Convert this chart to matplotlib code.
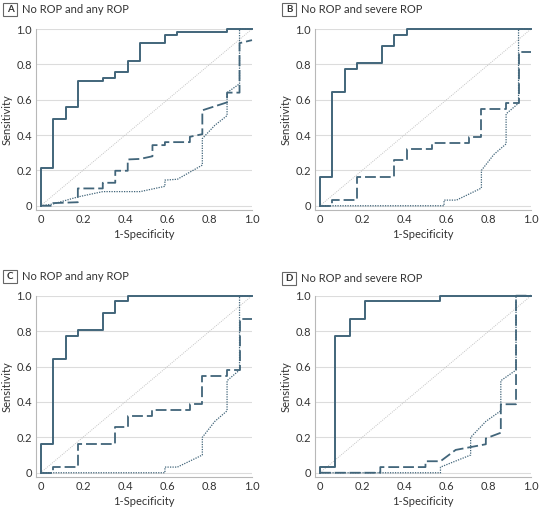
import matplotlib
matplotlib.use("Agg")
import matplotlib.pyplot as plt
import matplotlib.patches as mpatches

plt.rcParams['font.family'] = ['Lato', 'DejaVu Sans']

# ---------------- data ----------------
panel_letters = ["A", "B", "C", "D"]
panel_titles = ["No ROP and any ROP", "No ROP and severe ROP",
                "No ROP and any ROP", "No ROP and severe ROP"]

x_ticks = [0, 0.2, 0.4, 0.6, 0.8, 1.0]
x_tick_labels = ["0", "0.2", "0.4", "0.6", "0.8", "1.0"]
y_ticks = [0, 0.2, 0.4, 0.6, 0.8, 1.0]
y_tick_labels = ["0", "0.2", "0.4", "0.6", "0.8", "1.0"]

# Panel A
a_solid_x = [0, 0, 0.059, 0.059, 0.118, 0.118, 0.176, 0.176, 0.294, 0.294, 0.353, 0.353,
             0.412, 0.412, 0.471, 0.471, 0.588, 0.588, 0.647, 0.647, 0.882, 0.882, 1.0]
a_solid_y = [0, 0.215, 0.215, 0.49, 0.49, 0.557, 0.557, 0.705, 0.705, 0.72, 0.72, 0.755,
             0.755, 0.82, 0.82, 0.92, 0.92, 0.967, 0.967, 0.983, 0.983, 1.0, 1.0]
a_dash_x = [0, 0.059, 0.059, 0.176, 0.176, 0.294, 0.294, 0.353, 0.353, 0.412, 0.412, 0.471,
            0.529, 0.529, 0.588, 0.588, 0.706, 0.706, 0.765, 0.765, 0.882, 0.882, 0.941, 0.941, 1.0]
a_dash_y = [0, 0, 0.015, 0.02, 0.098, 0.098, 0.13, 0.13, 0.198, 0.198, 0.262, 0.265,
            0.28, 0.343, 0.343, 0.36, 0.36, 0.39, 0.405, 0.54, 0.585, 0.64, 0.64, 0.92, 0.937]
a_dot_x = [0, 0.059, 0.176, 0.294, 0.471, 0.588, 0.588, 0.647, 0.765, 0.765, 0.824, 0.882,
           0.882, 0.941, 0.941, 1.0]
a_dot_y = [0, 0.01, 0.05, 0.08, 0.08, 0.11, 0.145, 0.15, 0.23, 0.38, 0.455, 0.51,
           0.64, 0.69, 1.0, 1.0]

# Panel B
b_solid_x = [0, 0, 0.059, 0.059, 0.118, 0.118, 0.176, 0.176, 0.294, 0.294, 0.353, 0.353,
             0.412, 0.412, 1.0]
b_solid_y = [0, 0.16, 0.16, 0.645, 0.645, 0.774, 0.774, 0.806, 0.806, 0.903, 0.903, 0.968,
             0.968, 1.0, 1.0]
b_dash_x = [0, 0.059, 0.059, 0.176, 0.176, 0.353, 0.353, 0.412, 0.412, 0.529, 0.529, 0.706,
            0.706, 0.765, 0.765, 0.882, 0.882, 0.941, 0.941, 1.0]
b_dash_y = [0, 0, 0.032, 0.032, 0.161, 0.161, 0.258, 0.258, 0.323, 0.323, 0.355, 0.355,
            0.387, 0.387, 0.548, 0.548, 0.58, 0.58, 0.871, 0.871]
b_dot_x = [0, 0.588, 0.588, 0.647, 0.765, 0.765, 0.824, 0.882, 0.882, 0.941, 0.941, 1.0]
b_dot_y = [0, 0, 0.032, 0.032, 0.1, 0.2, 0.29, 0.35, 0.52, 0.58, 1.0, 1.0]

# Panel C
c_solid_x = [0, 0, 0.059, 0.059, 0.118, 0.118, 0.176, 0.176, 0.294, 0.294, 0.353, 0.353,
             0.412, 0.412, 1.0]
c_solid_y = [0, 0.16, 0.16, 0.645, 0.645, 0.774, 0.774, 0.806, 0.806, 0.903, 0.903, 0.968,
             0.968, 1.0, 1.0]
c_dash_x = [0, 0.059, 0.059, 0.176, 0.176, 0.353, 0.353, 0.412, 0.412, 0.529, 0.529, 0.706,
            0.706, 0.765, 0.765, 0.882, 0.882, 0.941, 0.941, 1.0]
c_dash_y = [0, 0, 0.032, 0.032, 0.161, 0.161, 0.258, 0.258, 0.323, 0.323, 0.355, 0.355,
            0.387, 0.387, 0.548, 0.548, 0.58, 0.58, 0.871, 0.871]
c_dot_x = [0, 0.588, 0.588, 0.647, 0.765, 0.765, 0.824, 0.882, 0.882, 0.941, 0.941, 1.0]
c_dot_y = [0, 0, 0.032, 0.032, 0.1, 0.2, 0.29, 0.35, 0.52, 0.58, 1.0, 1.0]

# Panel D
d_solid_x = [0, 0, 0.071, 0.071, 0.143, 0.143, 0.214, 0.214, 0.571, 0.571, 1.0]
d_solid_y = [0, 0.032, 0.032, 0.774, 0.774, 0.871, 0.871, 0.968, 0.968, 1.0, 1.0]
d_dash_x = [0, 0.286, 0.286, 0.5, 0.5, 0.571, 0.643, 0.786, 0.786, 0.857, 0.857, 0.929,
            0.929, 1.0]
d_dash_y = [0, 0, 0.032, 0.032, 0.065, 0.065, 0.129, 0.161, 0.194, 0.226, 0.387, 0.387,
            1.0, 1.0]
d_dot_x = [0, 0.571, 0.571, 0.714, 0.714, 0.786, 0.857, 0.857, 0.929, 0.929, 1.0]
d_dot_y = [0, 0, 0.032, 0.1, 0.2, 0.29, 0.35, 0.52, 0.58, 1.0, 1.0]

panels = [
    (a_solid_x, a_solid_y, a_dash_x, a_dash_y, a_dot_x, a_dot_y),
    (b_solid_x, b_solid_y, b_dash_x, b_dash_y, b_dot_x, b_dot_y),
    (c_solid_x, c_solid_y, c_dash_x, c_dash_y, c_dot_x, c_dot_y),
    (d_solid_x, d_solid_y, d_dash_x, d_dash_y, d_dot_x, d_dot_y),
]

# ---------------- layout ----------------
W, H = 540, 511
fig = plt.figure(figsize=(W / 100, H / 100), dpi=100)

line_color = "#41657a"
grid_color = "#dcdcdc"
spine_color = "#b8b8b8"
text_color = "#333333"

# axes boxes in pixels: (left_spine, right, top(y=1), bottom_spine)
boxes = [(36, 252, 29, 210), (315.3, 531, 29, 210),
         (36, 252, 295.7, 477), (315.3, 531, 295.7, 477)]
label_boxes = [(3, 3), (282, 3), (3, 270), (282, 272)]

for i, (l, r, t, b) in enumerate(boxes):
    ax = fig.add_axes([l / W, 1 - b / H, (r - l) / W, (b - t) / H])
    ax.set_xlim(-0.022, 1.0)
    ax.set_ylim(-0.024, 1.0)
    sx, sy, dx, dy, ox, oy = panels[i]
    ax.plot([0, 1], [0, 1], color="#c4c4c4", lw=0.7, ls=(0, (1, 1.2)), zorder=2)
    ax.plot(ox, oy, color=line_color, lw=0.9, ls=(0, (1, 1.0)), zorder=3, clip_on=False)
    ax.plot(dx, dy, color=line_color, lw=1.3, ls=(0, (6, 2.2)), zorder=3, clip_on=False)
    ax.plot(sx, sy, color=line_color, lw=1.4, zorder=4, clip_on=False)

    ax.set_xticks(x_ticks)
    ax.set_xticklabels(x_tick_labels)
    ax.set_yticks(y_ticks)
    ax.set_yticklabels(y_tick_labels)
    ax.tick_params(length=0, labelsize=8, colors=text_color, pad=3)
    ax.grid(axis="y", color=grid_color, lw=0.8, zorder=0)
    ax.set_axisbelow(True)
    for s in ["top", "right"]:
        ax.spines[s].set_visible(False)
    for s in ["left", "bottom"]:
        ax.spines[s].set_color(spine_color)
        ax.spines[s].set_linewidth(0.8)
    ax.set_xlabel("1-Specificity", fontsize=8, color=text_color, labelpad=3)
    ax.set_ylabel("Sensitivity", fontsize=8, color=text_color, labelpad=2.5)

    bx, by = label_boxes[i]
    fig.add_artist(mpatches.Rectangle((bx / W, 1 - (by + 13) / H), 14 / W, 13 / H,
                                      transform=fig.transFigure, fill=False,
                                      edgecolor="#666666", lw=0.8))
    fig.text((bx + 7) / W, 1 - (by + 6.5) / H, panel_letters[i], ha="center", va="center",
             fontsize=7, fontweight="bold", color=text_color)
    fig.text((bx + 19) / W, 1 - (by + 6.5) / H, panel_titles[i], ha="left", va="center",
             fontsize=8, color=text_color)

fig.savefig("out.png", dpi=100, facecolor="white")
